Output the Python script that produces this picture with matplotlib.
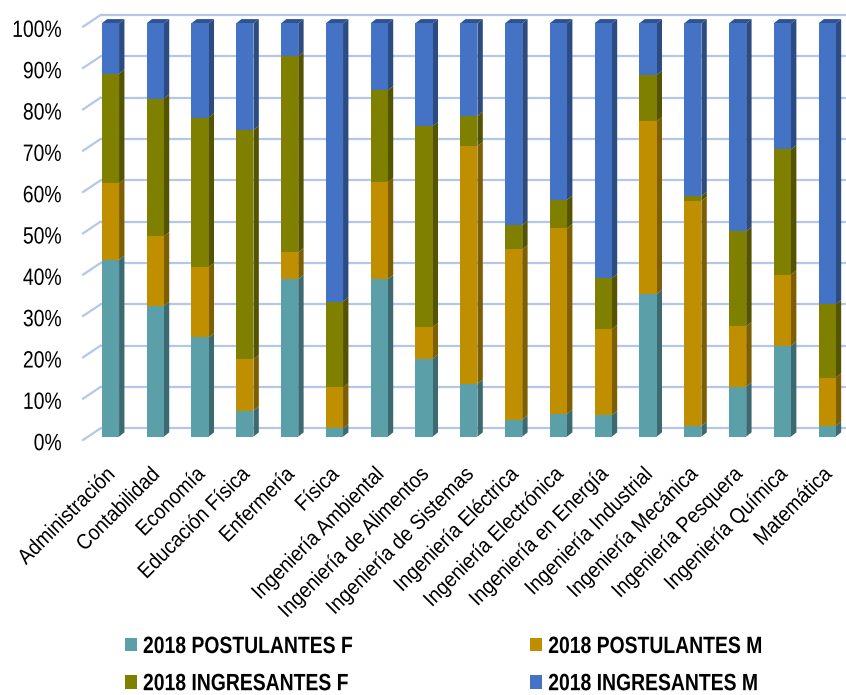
import matplotlib
matplotlib.use("Agg")
import matplotlib.pyplot as plt
import matplotlib.transforms as mtransforms
import matplotlib.font_manager as fm
from matplotlib.patches import Polygon, Patch
from matplotlib.patheffects import AbstractPathEffect
import numpy as np

categories = ["Administración", "Contabilidad", "Economía", "Educación Física", "Enfermería",
              "Física", "Ingeniería Ambiental", "Ingeniería de Alimentos", "Ingeniería de Sistemas",
              "Ingeniería Eléctrica", "Ingeniería Electrónica", "Ingeniería en Energía",
              "Ingeniería Industrial", "Ingeniería Mecánica", "Ingeniería Pesquera",
              "Ingeniería Química", "Matemática"]

# shares (%) of each series per category
postulantes_f = [42.8, 31.6, 24.0, 6.3, 38.1, 2.0, 38.1, 18.8, 12.8, 4.1, 5.5, 5.2, 34.5, 2.6, 12.1, 22.0, 2.6]
postulantes_m = [18.5, 16.9, 17.0, 12.4, 6.5, 9.9, 23.5, 7.7, 57.5, 41.2, 44.9, 20.8, 41.8, 54.4, 14.6, 17.2, 11.7]
ingresantes_f = [26.5, 33.3, 36.2, 55.5, 47.4, 20.8, 22.2, 48.6, 7.3, 5.9, 6.9, 12.3, 11.2, 1.2, 23.0, 30.3, 17.7]
ingresantes_m = [12.2, 18.2, 22.8, 25.8, 8.0, 67.3, 16.2, 24.9, 22.4, 48.8, 42.7, 61.7, 12.5, 41.8, 50.3, 30.5, 68.0]

series_names = ["2018 POSTULANTES F", "2018 POSTULANTES M", "2018 INGRESANTES F", "2018 INGRESANTES M"]
front_colors = ["#5BA0A9", "#BF8F00", "#808000", "#4472C4"]
side_colors = ["#3C6A70", "#7D5E00", "#545400", "#2C4B81"]
top_color = "#2F5290"

yticks = [0, 10, 20, 30, 40, 50, 60, 70, 80, 90, 100]
ytick_labels = [f"{v}%" for v in yticks]


class Condense(AbstractPathEffect):
    """Horizontally condense glyphs (Arial Narrow look) in the text's own frame."""

    def __init__(self, sx=0.82, keep_right=False):
        super().__init__()
        self.sx = sx
        self.keep_right = keep_right

    def draw_path(self, renderer, gc, tpath, affine, rgbFace=None):
        pre = mtransforms.Affine2D().scale(self.sx, 1.0)
        if self.keep_right and len(tpath.vertices):
            xmax = tpath.vertices[:, 0].max()
            pre = pre.translate((1 - self.sx) * xmax, 0)
        renderer.draw_path(gc, tpath, pre + affine, rgbFace)


FAM = ["Liberation Sans", "DejaVu Sans"]
plt.rcParams["font.family"] = FAM
ytick_fp = fm.FontProperties(family=FAM, size=17)
xtick_fp = fm.FontProperties(family=FAM, size=15.5)
leg_fp = fm.FontProperties(family=FAM, weight="bold", size=17)

fig = plt.figure(figsize=(8.46, 6.95), dpi=100)
ax = fig.add_axes([0.09456, 0.3598, 0.9054, 0.6244])
ax.set_xlim(-0.679, 16.42)
ax.set_ylim(-2, 103)

n = len(categories)
x = np.arange(n)
w = 0.386
dx, dy = 0.12, 1.04          # bar depth offset
front_off, back_off = -0.8, 2.03
x_front, x_back = -0.61, -0.22
grid_color = "#B4C7E7"

# back-wall gridlines + left wall diagonals
for v in yticks:
    ax.plot([x_back, 16.42], [v + back_off, v + back_off], color=grid_color, lw=1.6, zorder=0,
            solid_capstyle="butt")
    ax.plot([x_front, x_back], [v + front_off, v + back_off], color=grid_color, lw=1.6, zorder=0)

data = [postulantes_f, postulantes_m, ingresantes_f, ingresantes_m]
bottom = np.zeros(n)
for vals, fc, sc in zip(data, front_colors, side_colors):
    vals = np.array(vals, dtype=float)
    ax.bar(x, vals, bottom=bottom, width=w, color=fc, zorder=3, linewidth=0)
    for xi, b, h in zip(x, bottom, vals):
        xr = xi + w / 2
        ax.add_patch(Polygon([(xr, b), (xr + dx, b + dy), (xr + dx, b + h + dy), (xr, b + h)],
                             closed=True, facecolor=sc, edgecolor="none", zorder=2))
    bottom = bottom + vals

# top faces
for xi, t in zip(x, bottom):
    xl, xr = xi - w / 2, xi + w / 2
    ax.add_patch(Polygon([(xl, t), (xl + dx, t + dy), (xr + dx, t + dy), (xr, t)],
                         closed=True, facecolor=top_color, edgecolor="none", zorder=2))

for s in ax.spines.values():
    s.set_visible(False)

ax.set_yticks(yticks)
ax.set_yticklabels(ytick_labels)
ax.tick_params(axis="y", length=0, pad=13)
offset = mtransforms.ScaledTranslation(0, -0.05, fig.dpi_scale_trans)
for lab in ax.get_yticklabels():
    lab.set_fontproperties(ytick_fp)
    lab.set_transform(lab.get_transform() + offset)
    lab.set_path_effects([Condense(0.82, keep_right=True)])

ax.set_xticks(x)
ax.set_xticklabels(categories, rotation=45, ha="right", va="top", rotation_mode="anchor")
ax.tick_params(axis="x", length=0, pad=14)
xoff = mtransforms.ScaledTranslation(-0.06, 0, fig.dpi_scale_trans)
for lab in ax.get_xticklabels():
    lab.set_fontproperties(xtick_fp)
    lab.set_transform(lab.get_transform() + xoff)
    lab.set_path_effects([Condense(0.9, keep_right=True)])

handles = [Patch(facecolor=c, edgecolor="none") for c in front_colors]
order = [0, 2, 1, 3]
leg = fig.legend([handles[i] for i in order], [series_names[i] for i in order],
                 loc="center left", bbox_to_anchor=(0.1478, 0.043), ncol=2,
                 frameon=False, prop=leg_fp, handlelength=0.51,
                 handleheight=0.51, handletextpad=0.25, columnspacing=5.55, labelspacing=0.6,
                 borderpad=0, borderaxespad=0)
for t in leg.get_texts():
    t.set_path_effects([Condense(0.82)])

fig.savefig("out.png", dpi=100)
